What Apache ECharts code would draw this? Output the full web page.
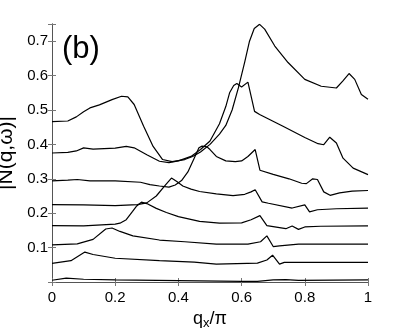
<!DOCTYPE html>
<html>
<head>
<meta charset="utf-8">
<script src="https://cdn.jsdelivr.net/npm/echarts@6/dist/echarts.min.js"></script>
<style>html,body{margin:0;padding:0;background:#fff;}#c{width:407px;height:332px;}</style>
</head>
<body>
<div id="c"></div>
<script>
// q_x/pi values and |N(q,w)| values for each curve
const q1 = [0,0.05,0.077,0.1,0.12,0.15,0.19,0.22,0.24,0.26,0.29,0.32,0.35,0.38,0.42,0.445,0.47,0.5,0.53,0.55,0.57,0.59,0.61,0.625,0.64,0.657,0.673,0.705,0.747,0.8,0.852,0.9,0.92,0.94,0.958,0.979,1.0];
const n1 = [0.466,0.468,0.48,0.495,0.506,0.515,0.53,0.54,0.538,0.516,0.453,0.394,0.356,0.35,0.356,0.365,0.378,0.4,0.43,0.455,0.5,0.565,0.64,0.7,0.737,0.749,0.735,0.686,0.638,0.589,0.569,0.564,0.584,0.606,0.589,0.545,0.531];

const q2 = [0,0.05,0.077,0.1,0.13,0.2,0.235,0.26,0.3,0.34,0.37,0.4,0.44,0.47,0.5,0.53,0.55,0.562,0.575,0.585,0.6,0.62,0.641,0.657,0.731,0.8,0.842,0.86,0.879,0.9,0.921,0.953,1.0];
const n2 = [0.375,0.377,0.381,0.39,0.386,0.389,0.394,0.39,0.37,0.351,0.347,0.352,0.365,0.385,0.41,0.46,0.51,0.55,0.571,0.577,0.567,0.581,0.496,0.487,0.453,0.42,0.402,0.399,0.421,0.404,0.36,0.331,0.312];

const q3 = [0,0.05,0.08,0.12,0.2,0.28,0.31,0.34,0.37,0.39,0.41,0.43,0.45,0.465,0.475,0.49,0.5,0.52,0.55,0.58,0.6,0.62,0.643,0.658,0.7,0.75,0.79,0.805,0.825,0.84,0.86,0.88,0.91,0.95,1.0];
const n3 = [0.294,0.296,0.298,0.294,0.294,0.29,0.283,0.279,0.276,0.282,0.295,0.32,0.36,0.39,0.395,0.393,0.385,0.365,0.352,0.35,0.352,0.365,0.385,0.325,0.313,0.3,0.287,0.286,0.3,0.298,0.262,0.252,0.259,0.264,0.266];

const q4 = [0,0.1,0.2,0.27,0.3,0.33,0.36,0.378,0.395,0.414,0.44,0.467,0.52,0.573,0.61,0.63,0.643,0.665,0.685,0.76,0.8,0.815,0.84,0.9,1.0];
const n4 = [0.225,0.224,0.222,0.225,0.23,0.25,0.283,0.302,0.292,0.279,0.27,0.263,0.256,0.251,0.255,0.262,0.268,0.233,0.229,0.215,0.224,0.204,0.21,0.213,0.215];

const q5 = [0,0.1,0.2,0.215,0.235,0.255,0.267,0.283,0.3,0.33,0.362,0.4,0.467,0.53,0.6,0.63,0.658,0.68,0.74,0.76,0.78,0.8,0.85,1.0];
const n5 = [0.164,0.163,0.168,0.171,0.181,0.205,0.22,0.232,0.228,0.214,0.202,0.19,0.176,0.171,0.172,0.181,0.193,0.164,0.155,0.163,0.153,0.16,0.162,0.163];

const q6 = [0,0.08,0.13,0.17,0.19,0.215,0.256,0.34,0.42,0.52,0.62,0.66,0.68,0.7,0.72,0.78,1.0];
const n6 = [0.108,0.111,0.124,0.154,0.157,0.147,0.134,0.122,0.117,0.11,0.11,0.117,0.134,0.103,0.105,0.11,0.11];

const q7 = [0,0.06,0.104,0.13,0.2,0.34,0.45,0.52,0.65,0.68,0.698,0.72,0.735,1.0];
const n7 = [0.054,0.062,0.087,0.08,0.069,0.062,0.058,0.052,0.055,0.064,0.078,0.052,0.057,0.057];

const q8 = [0,0.045,0.1,0.2,0.4,0.6,0.65,0.7,0.74,0.78,1.0];
const n8 = [0.005,0.011,0.008,0.006,0.004,0.002,0.002,0.006,0.007,0.005,0.006];

const xTicks = [0,0.2,0.4,0.6,0.8,1];
const yTicks = [0.1,0.2,0.3,0.4,0.5,0.6,0.7];

const curves = [[q1,n1],[q2,n2],[q3,n3],[q4,n4],[q5,n5],[q6,n6],[q7,n7],[q8,n8]];

const FONT = 'Liberation Sans, Arial, Helvetica, sans-serif';
const frame = {lineStyle:{color:'#555', width:1}};
const tick = {show:true, inside:true, length:4, lineStyle:{color:'#777', width:1}};

function xLabel(v){ if (!xTicks.some(t=>Math.abs(t-v)<1e-9)) return ''; return (Math.abs(v)<1e-9)?'0':(Math.abs(v-1)<1e-9?'1':v.toFixed(1)); }
function yLabel(v){ return yTicks.some(t=>Math.abs(t-v)<1e-9) ? v.toFixed(1) : ''; }

const chart = echarts.init(document.getElementById('c'));
chart.setOption({
  animation:false,
  backgroundColor:'#fff',
  grid:{left:52, right:39, top:24, bottom:50, containLabel:false, outerBoundsMode:'none'},
  graphic:[{type:'text', left:62, top:34, style:{text:'(b)', font:'31px '+FONT, fill:'#000'}}],
  xAxis:[
    {type:'value', min:0, max:1, interval:0.2, position:'bottom',
     axisLine:Object.assign({show:true},frame), axisTick:tick, splitLine:{show:false},
     axisLabel:{formatter:xLabel, color:'#000', fontSize:15, fontFamily:FONT, margin:8},
     name:'{a|q}{b|x}{a|/π}', nameLocation:'middle', nameGap:16,
     nameTextStyle:{rich:{a:{fontSize:18, fontFamily:FONT, color:'#000'}, b:{fontSize:13, fontFamily:FONT, color:'#000', padding:[10,0,0,0]}}}},
    {type:'value', min:0, max:1, interval:0.2, position:'top',
     axisLine:Object.assign({show:true},frame), axisTick:tick, splitLine:{show:false}, axisLabel:{show:false}}
  ],
  yAxis:[
    {type:'value', min:0, max:0.75, interval:0.1, position:'left',
     axisLine:Object.assign({show:true},frame), axisTick:tick, splitLine:{show:false},
     axisLabel:{formatter:yLabel, color:'#000', fontSize:15, fontFamily:FONT, margin:4},
     name:'|N(q,ω)|', nameLocation:'middle', nameGap:26, nameRotate:90,
     nameTextStyle:{fontSize:21, fontFamily:FONT, color:'#000'}},
    {type:'value', min:0, max:0.75, interval:0.1, position:'right',
     axisLine:Object.assign({show:true},frame), axisTick:tick, splitLine:{show:false}, axisLabel:{show:false}}
  ],
  series: curves.map(([qs,ns])=>({
    type:'line', xAxisIndex:0, yAxisIndex:0, showSymbol:false, symbol:'none',
    lineStyle:{color:'#000', width:1.2}, data: qs.map((q,i)=>[q,ns[i]])
  }))
});
</script>
</body>
</html>
